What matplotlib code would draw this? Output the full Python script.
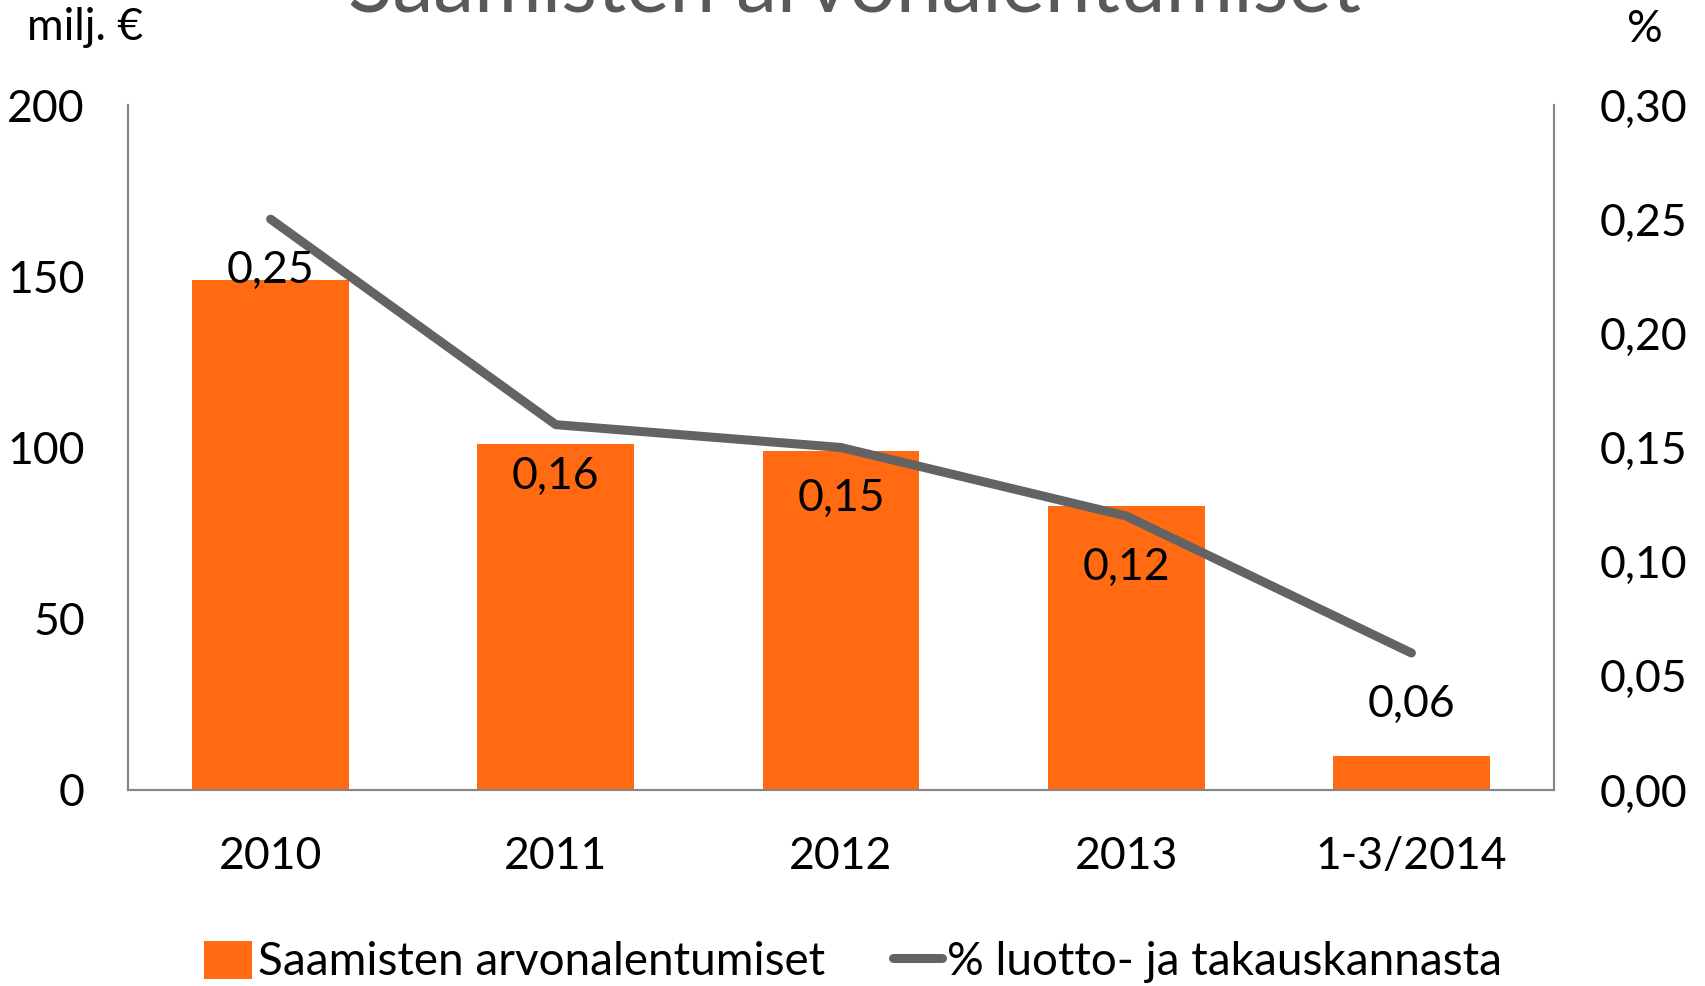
import matplotlib
matplotlib.use("Agg")
import matplotlib.pyplot as plt
from matplotlib.patches import Patch
from matplotlib.lines import Line2D
from matplotlib.ticker import FuncFormatter

plt.rcParams['font.family'] = ['Lato', 'DejaVu Sans']

categories = ["2010", "2011", "2012", "2013", "1-3/2014"]
impairments = [149, 101, 99, 83, 10]          # milj. €
share_pct = [0.25, 0.16, 0.15, 0.12, 0.06]    # % luotto- ja takauskannasta

left_ticks = [0, 50, 100, 150, 200]
right_ticks = [0.00, 0.05, 0.10, 0.15, 0.20, 0.25, 0.30]

bar_color = "#FF6A13"
line_color = "#636363"
spine_color = "#868686"

fig = plt.figure(figsize=(17.06, 9.86), dpi=100)
ax = fig.add_axes([128 / 1706, 1 - 790 / 986, (1554 - 128) / 1706, (790 - 105) / 986])
ax2 = ax.twinx()

x = list(range(len(categories)))
ax.bar(x, impairments, width=0.55, color=bar_color, zorder=2)
ax.set_xlim(-0.5, len(categories) - 0.5)
ax.set_ylim(0, 200)
ax.set_yticks(left_ticks)
ax.set_xticks(x)
ax.set_xticklabels(categories)

ax2.plot(x, share_pct, color=line_color, linewidth=6.5, solid_capstyle='round',
         solid_joinstyle='round', zorder=3)
ax2.set_ylim(0, 0.30)
ax2.set_yticks(right_ticks)
ax2.yaxis.set_major_formatter(FuncFormatter(lambda v, p: f"{v:.2f}".replace(".", ",")))

for xi, v in zip(x, share_pct):
    ax2.annotate(f"{v:.2f}".replace(".", ","), (xi, v), xytext=(0, -37),
                 textcoords="offset points", ha="center", va="center",
                 fontsize=32, color="black", zorder=4)

for a in (ax, ax2):
    a.spines['top'].set_visible(False)
    for s in ('left', 'right', 'bottom'):
        a.spines[s].set_color(spine_color)
        a.spines[s].set_linewidth(1.5)
    a.tick_params(length=0, labelsize=32, colors="black")
ax.tick_params(axis='y', pad=31)
ax2.tick_params(axis='y', pad=33)
ax.tick_params(axis='x', pad=33)

fig.text(27 / 1706, 1 - 27 / 986, "milj. €", fontsize=32, ha="left", va="center")
fig.text(1663 / 1706, 1 - 30 / 986, "%", fontsize=32, ha="right", va="center")

fig.text(855 / 1706, 1 - 12 / 986, "Saamisten arvonalentumiset", fontsize=59,
         color="#595959", ha="center", va="baseline")

handles = [Patch(facecolor=bar_color, edgecolor='none'),
           Line2D([0], [0], color=line_color, linewidth=6.5, solid_capstyle='round')]
labels = ["Saamisten arvonalentumiset", "% luotto- ja takauskannasta"]
fig.legend(handles, labels, loc="center", bbox_to_anchor=(0.5, 1 - 962 / 986),
           ncol=2, frameon=False, fontsize=33, handlelength=1.05, handleheight=0.9,
           handletextpad=0.12, columnspacing=1.5)

fig.savefig("out.png", dpi=100)
